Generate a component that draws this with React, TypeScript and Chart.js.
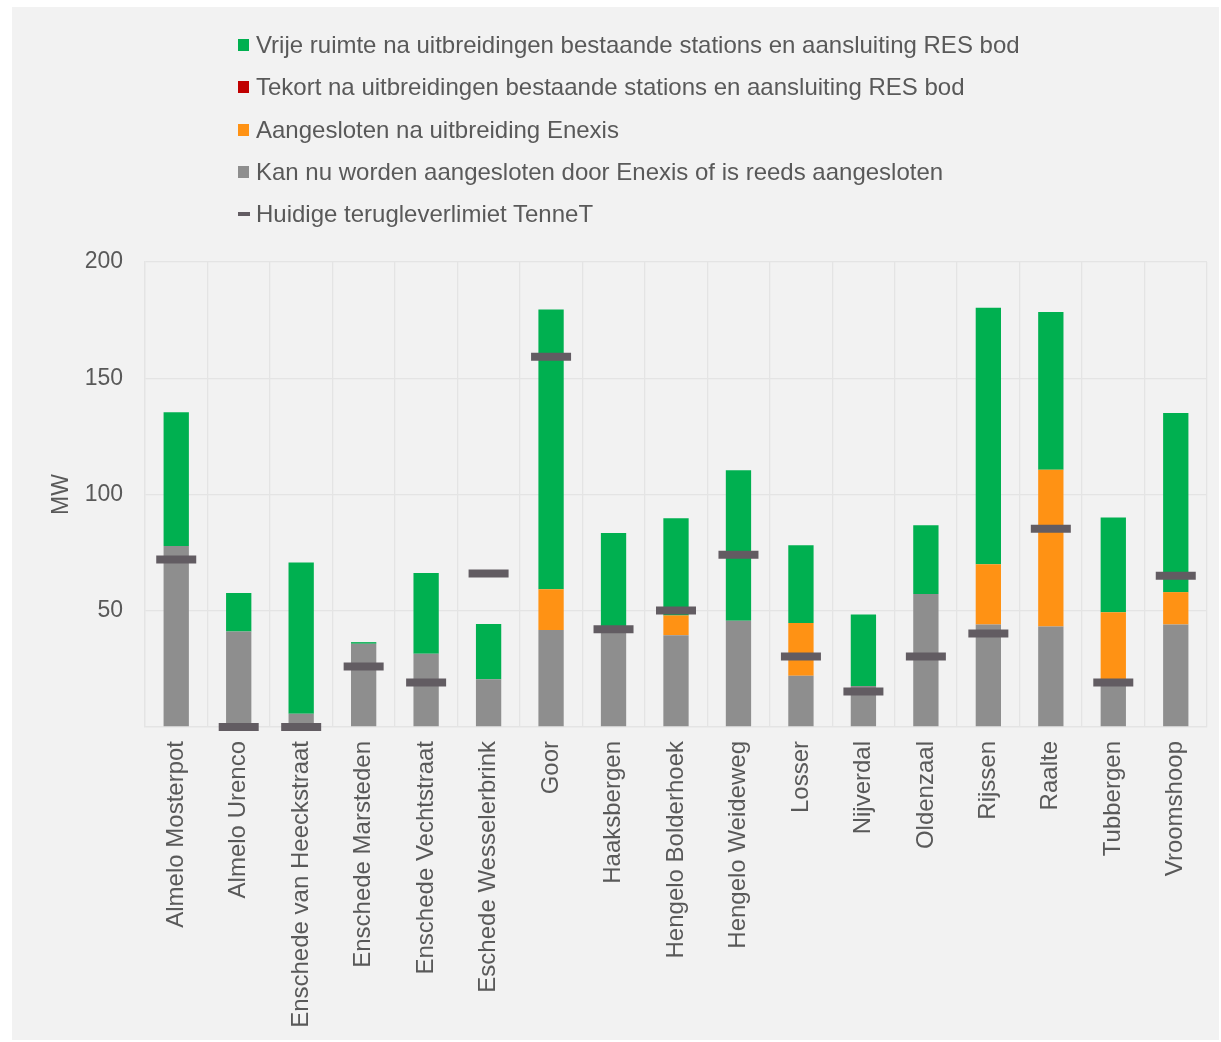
import React, { useEffect, useRef } from 'react';
import { Chart, registerables } from 'chart.js';

Chart.register(...registerables);

const categories = [
  'Almelo Mosterpot', 'Almelo Urenco', 'Enschede van Heeckstraat', 'Enschede Marsteden',
  'Enschede Vechtstraat', 'Eschede Wesselerbrink', 'Goor', 'Haaksbergen', 'Hengelo Bolderhoek',
  'Hengelo Weideweg', 'Losser', 'Nijverdal', 'Oldenzaal', 'Rijssen', 'Raalte', 'Tubbergen', 'Vroomshoop',
];
const nowConnectable = [77.9, 41.1, 5.7, 35.8, 31.5, 20.5, 41.7, 41, 39.5, 45.7, 22.0, 17.6, 57.2, 44.1, 43.2, 19, 44.1];
const afterEnexis = [0, 0, 0, 0, 0, 0, 17.6, 0, 8.5, 0, 22.7, 0, 0, 25.9, 67.4, 30.4, 13.9];
const shortage = [0, 0, 0, 0, 0, 0, 0, 0, 0, 0, 0, 0, 0, 0, 0, 0, 0];
const freeSpace = [57.5, 16.5, 65.0, 0.7, 34.7, 23.8, 120.3, 42.4, 41.8, 64.7, 33.5, 30.8, 29.6, 110.3, 67.9, 40.7, 77.1];
const tennetLimit = [72, 0, 0, 26, 19.1, 66, 159.2, 42, 50.1, 74.1, 30.3, 15.3, 30.3, 40.2, 85.3, 19.1, 65.1];
const yTickValues = [50, 100, 150, 200];

const legendLabels = [
  'Vrije ruimte na uitbreidingen bestaande stations en aansluiting RES bod',
  'Tekort na uitbreidingen bestaande stations en aansluiting RES bod',
  'Aangesloten na uitbreiding Enexis',
  'Kan nu worden aangesloten door Enexis of is reeds aangesloten',
  'Huidige terugleverlimiet TenneT',
];

const GREEN = '#00b050';
const RED = '#c00000';
const ORANGE = '#ff9214';
const GREY = '#8e8e8e';
const MARK = '#625c62';
const TEXT = '#595959';
const FONT = '"Liberation Sans", Arial, sans-serif';

const legendColors = [GREEN, RED, ORANGE, GREY, MARK];

const W = 1207;
const H = 1033;

export default function App() {
  const ref = useRef<HTMLCanvasElement | null>(null);

  useEffect(() => {
    if (!ref.current) return;
    const chart = new Chart(ref.current, {
      type: 'bar',
      data: {
        labels: categories,
        datasets: [
          {
            type: 'line' as any,
            label: legendLabels[4],
            data: tennetLimit,
            showLine: false,
            pointStyle: 'line',
            pointRadius: 20,
            pointHoverRadius: 20,
            pointBorderWidth: 8,
            borderColor: MARK,
            backgroundColor: MARK,
            clip: false,
            order: 0,
          } as any,
          { label: legendLabels[3], data: nowConnectable, backgroundColor: GREY, stack: 's', order: 1 },
          { label: legendLabels[2], data: afterEnexis, backgroundColor: ORANGE, stack: 's', order: 1 },
          { label: legendLabels[1], data: shortage, backgroundColor: RED, stack: 's', order: 1 },
          { label: legendLabels[0], data: freeSpace, backgroundColor: GREEN, stack: 's', order: 1 },
        ],
      },
      options: {
        responsive: false,
        animation: false,
        layout: { autoPadding: false, padding: { top: 255, right: 12, left: 0, bottom: 0 } },
        datasets: { bar: { barPercentage: 0.405, categoryPercentage: 1 } } as any,
        plugins: { legend: { display: false }, tooltip: { enabled: false } },
        scales: {
          x: {
            stacked: true,
            grid: { color: '#e4e4e4', lineWidth: 1.3, drawTicks: false, offset: true },
            border: { color: '#e4e4e4', width: 1.3 },
            ticks: {
              color: TEXT,
              font: { family: FONT, size: 24 },
              maxRotation: 90,
              minRotation: 90,
              autoSkip: false,
              padding: 14,
            },
            afterFit: (s: any) => { s.height = 313; s.paddingRight = 0; s.paddingLeft = 0; },
          },
          y: {
            stacked: true,
            min: 0,
            max: 200,
            grid: { color: '#e4e4e4', lineWidth: 1.3, drawTicks: false },
            border: { color: '#e4e4e4', width: 1.3 },
            afterBuildTicks: (s: any) => { s.ticks = [0, ...yTickValues].map((v) => ({ value: v })); },
            ticks: {
              color: TEXT,
              font: { family: FONT, size: 23 },
              padding: 22,
              callback: (v: any) => (v === 0 ? '' : String(v)),
            },
            title: {
              display: true,
              text: 'MW',
              color: TEXT,
              font: { family: FONT, size: 23 },
              padding: { top: 36, bottom: 0 },
            },
            afterFit: (s: any) => { s.width = 133; },
          },
        },
      },
    });
    return () => chart.destroy();
  }, []);

  return (
    <div style={{ position: 'absolute', left: 12, top: 7, width: W, height: H, background: '#f2f2f2' }}>
      <canvas ref={ref} width={W} height={H} style={{ display: 'block', width: W, height: H }} />
      {legendLabels.map((lab, i) => (
        <div
          key={lab}
          style={{
            position: 'absolute',
            left: 226,
            top: 38 + i * 42.3 - 16,
            height: 32,
            display: 'flex',
            alignItems: 'center',
            whiteSpace: 'nowrap',
            fontFamily: FONT,
            fontSize: 24,
            color: TEXT,
          }}
        >
          <span
            style={{
              display: 'inline-block',
              width: i === 4 ? 12 : 11,
              height: i === 4 ? 4 : 12,
              background: legendColors[i],
              marginRight: i === 4 ? 6 : 7,
            }}
          />
          <span>{lab}</span>
        </div>
      ))}
    </div>
  );
}
